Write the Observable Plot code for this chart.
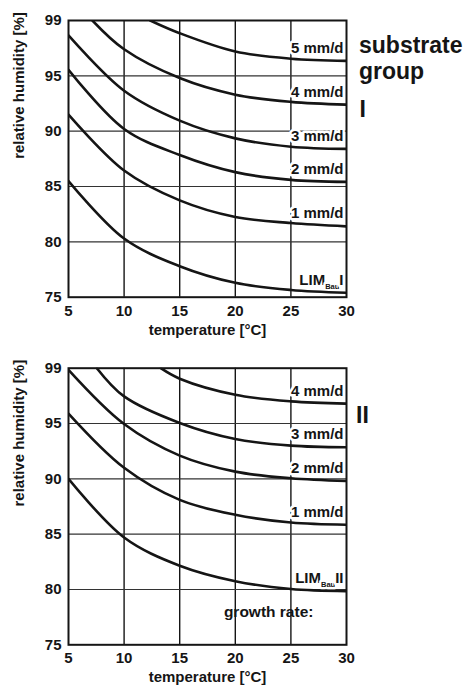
<!DOCTYPE html>
<html>
<head>
<meta charset="utf-8">
<script src="https://cdn.jsdelivr.net/npm/d3@7"></script>
<script src="https://cdn.jsdelivr.net/npm/@observablehq/plot@0.6"></script>
<style>
  html, body { margin: 0; padding: 0; background: #fff; }
  #chart svg { display: block; }
</style>
</head>
<body>
<div id="chart"></div>
<script>
// ---- axes ----
const xTicks = [5, 10, 15, 20, 25, 30];
const yTicks = [75, 80, 85, 90, 95, 100];
const yTickLabels = ["75", "80", "85", "90", "95", "99"];
const xGrid = [10, 15, 20, 25];
const yGrid = [80, 85, 90, 95];
const xLabel = "temperature [°C]";
const yLabel = "relative humidity [%]";

// ---- substrate group I ----
const g1Names = ["LIM_{Bau}I", "1 mm/d", "2 mm/d", "3 mm/d", "4 mm/d", "5 mm/d"];
const g1Temps = [
  [5, 10, 15, 20, 25, 30],
  [5, 10, 15, 20, 25, 30],
  [5, 10, 15, 20, 25, 30],
  [5, 10, 15, 20, 25, 30],
  [7.15, 10, 15, 20, 25, 30],
  [12.35, 15, 20, 25, 30]
];
const g1Rh = [
  [85.5, 80.3, 77.8, 76.3, 75.65, 75.4],
  [91.5, 86.45, 83.75, 82.25, 81.7, 81.4],
  [95.55, 90.2, 87.85, 86.3, 85.6, 85.42],
  [98.65, 93.65, 90.95, 89.35, 88.6, 88.4],
  [100, 97.4, 94.8, 93.3, 92.65, 92.4],
  [100, 98.85, 97.2, 96.55, 96.35]
];

// ---- substrate group II ----
const g2Names = ["LIM_{Bau}II", "1 mm/d", "2 mm/d", "3 mm/d", "4 mm/d"];
const g2Temps = [
  [5, 10, 15, 20, 25, 30],
  [5, 10, 15, 20, 25, 30],
  [5, 10, 15, 20, 25, 30],
  [7.55, 10, 15, 20, 25, 30],
  [13.3, 15, 20, 25, 30]
];
const g2Rh = [
  [90.0, 84.7, 82.15, 80.75, 80.05, 79.85],
  [95.9, 91.0, 88.1, 86.75, 86.05, 85.85],
  [99.85, 94.95, 92.1, 90.65, 90.05, 89.8],
  [100, 97.45, 95.05, 93.6, 93.0, 92.85],
  [100, 99.05, 97.6, 97.0, 96.8]
];

const groupTitle1 = "substrate\ngroup";
const groupNum1 = "I";
const groupNum2 = "II";
const growthNote = "growth rate:";

function rows(names, temps, rhs) {
  return names.flatMap((n, i) => temps[i].map((t, j) => ({series: n, t, rh: rhs[i][j]})));
}

const INK = "#151515";
const FONT = "'Liberation Sans', Arial, Helvetica, sans-serif";

function panel({data, height, marginTop, marginBottom, extra}) {
  const svg = Plot.plot({
    width: 465,
    height,
    marginLeft: 68,
    marginRight: 119,
    marginTop,
    marginBottom,
    style: {fontFamily: FONT, fontSize: "15px", fontWeight: "bold", color: INK, background: "#fff", overflow: "visible"},
    x: {domain: [5, 30]},
    y: {domain: [75, 100]},
    marks: [
      Plot.gridX(xGrid, {stroke: INK, strokeOpacity: 1, strokeWidth: 1.4}),
      Plot.gridY(yGrid, {stroke: "#333", strokeOpacity: 1, strokeWidth: 1.2}),
      Plot.axisX(xTicks, {tickSize: 0, tickPadding: 8, label: null, fill: INK}),
      Plot.axisY(yTicks, {tickSize: 0, tickPadding: 7, label: null, fill: INK,
        tickFormat: d => yTickLabels[yTicks.indexOf(d)]}),
      Plot.text(data, Plot.selectLast({
        x: "t", y: "rh", z: "series", text: "series",
        textAnchor: "end", dx: -3, dy: -8, lineAnchor: "bottom",
        fill: INK, stroke: "#fff", strokeWidth: 5, paintOrder: "stroke", fontSize: 15
      })),
      Plot.line(data, {x: "t", y: "rh", z: "series", curve: "catmull-rom", stroke: INK, strokeWidth: 2.6, clip: true}),
      Plot.frame({stroke: INK, strokeWidth: 2}),
      Plot.text([yLabel], {text: d => d, frameAnchor: "left", rotate: -90, dx: -49.5, lineAnchor: "middle", fill: INK}),
      Plot.text([xLabel], {text: d => d, frameAnchor: "bottom", dy: 37.5, lineAnchor: "bottom", fill: INK}),
      ...extra
    ]
  });
  // subscripts: "LIM_{Bau}I" -> LIM + small lowered "Bau" + I
  svg.querySelectorAll("text").forEach(t => {
    const m = t.textContent.match(/^(.*)_\{(.*)\}(.*)$/);
    if (!m) return;
    t.textContent = "";
    const ns = "http://www.w3.org/2000/svg";
    const a = document.createElementNS(ns, "tspan"); a.textContent = m[1];
    const b = document.createElementNS(ns, "tspan"); b.textContent = m[2];
    b.setAttribute("font-size", "7.5"); b.setAttribute("dy", "4");
    const c = document.createElementNS(ns, "tspan"); c.textContent = m[3];
    c.setAttribute("dy", "-4");
    t.append(a, b, c);
  });
  return svg;
}

const chart = document.getElementById("chart");

chart.append(panel({
  data: rows(g1Names, g1Temps, g1Rh),
  height: 340, marginTop: 20, marginBottom: 43.3,
  extra: [
    Plot.text([groupTitle1], {text: d => d, frameAnchor: "top-right", textAnchor: "start", dx: 12.5, dy: 58,
      lineAnchor: "bottom", lineHeight: 1.1, fontSize: 23, fill: INK}),
    Plot.text([groupNum1], {text: d => d, frameAnchor: "top-right", textAnchor: "start", dx: 13, dy: 96,
      lineAnchor: "bottom", fontSize: 23, fill: INK})
  ]
}));

chart.append(panel({
  data: rows(g2Names, g2Temps, g2Rh),
  height: 347, marginTop: 27.7, marginBottom: 42.7,
  extra: [
    Plot.text([groupNum2], {text: d => d, frameAnchor: "top-right", textAnchor: "start", dx: 9.5, dy: 54.5,
      lineAnchor: "bottom", fontSize: 23, fill: INK}),
    Plot.text([growthNote], {text: d => d, x: 23, y: 77.55, lineAnchor: "bottom", fill: INK, fontSize: 15.5})
  ]
}));
</script>
</body>
</html>
